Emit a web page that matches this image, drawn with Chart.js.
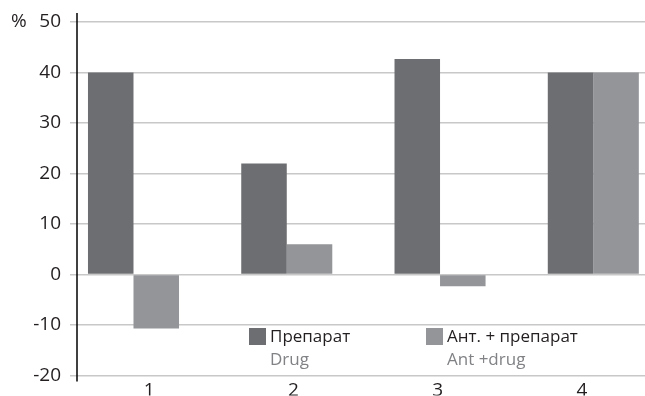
<!DOCTYPE html>
<html>
<head>
<meta charset="utf-8">
<script src="https://cdn.jsdelivr.net/npm/chart.js@4/dist/chart.umd.min.js"></script>
<style>
    html, body { margin: 0; padding: 0; background: #fff; overflow: hidden; }
    #wrap { width: 645px; height: 396px; overflow: hidden; }
</style>
</head>
<body>
<div id="wrap"><canvas id="chart" width="660" height="396"></canvas></div>
<script>
// data
const categories = ['1', '2', '3', '4'];
const drugValues = [40, 22, 42.7, 40];
const antDrugValues = [-10.7, 6, -2.3, 40];
const legendMain = ['Препарат', 'Ант. + препарат'];
const legendSub = ['Drug', 'Ant +drug'];
const yTicks = [-20, -10, 0, 10, 20, 30, 40, 50];

const FONT = '"Open Sans", "Noto Sans", sans-serif';
const TEXT = '#231f20';
const colors = ['#6d6e71', '#939598'];

// bars sit on their own (hidden) numeric axis, labels on the category one
const barSlots = categories.map((c, i) => i + 1);
const toPoints = vals => vals.map((v, i) => ({ x: barSlots[i], y: v }));

// draws the % sign, the black y axis line and the in-plot legend
const extras = {
    id: 'extras',
    afterDatasetsDraw(chart) {
        const ctx = chart.ctx;
        const area = chart.chartArea;
        const y = chart.scales.y;
        ctx.save();

        ctx.strokeStyle = '#000';
        ctx.lineWidth = 1.5;
        ctx.beginPath();
        ctx.moveTo(area.left, area.top - 9);
        ctx.lineTo(area.left, area.bottom + 6);
        ctx.stroke();

        ctx.fillStyle = TEXT;
        ctx.font = '19px ' + FONT;
        ctx.textBaseline = 'middle';
        ctx.textAlign = 'left';
        ctx.fillText('%', 11, y.getPixelForValue(yTicks[yTicks.length - 1]));

        const xs = [249, 426];
        chart.data.datasets.forEach((ds, i) => {
            ctx.fillStyle = ds.backgroundColor;
            ctx.fillRect(xs[i], 328, 17, 17);
            ctx.textBaseline = 'alphabetic';
            ctx.font = '17px ' + FONT;
            ctx.fillStyle = TEXT;
            ctx.fillText(legendMain[i], xs[i] + 21, 342);
            ctx.fillStyle = '#808285';
            ctx.fillText(legendSub[i], xs[i] + 21, 365);
        });
        ctx.restore();
    }
};

new Chart(document.getElementById('chart'), {
    type: 'bar',
    data: {
        labels: categories,
        datasets: [{
            label: legendMain[0],
            data: toPoints(drugValues),
            backgroundColor: colors[0],
            xAxisID: 'xb'
        }, {
            label: legendMain[1],
            data: toPoints(antDrugValues),
            backgroundColor: colors[1],
            xAxisID: 'xb'
        }]
    },
    options: {
        responsive: false,
        animation: false,
        categoryPercentage: 0.594,
        barPercentage: 1,
        layout: { padding: { top: 22, right: 6, left: 0, bottom: 0 } },
        plugins: {
            legend: { display: false },
            tooltip: { enabled: false }
        },
        scales: {
            xb: {
                type: 'linear',
                display: false,
                offset: false,
                min: 0.6314,
                max: 4.396,
                afterBuildTicks: s => { s.ticks = barSlots.map(v => ({ value: v })); }
            },
            x: {
                type: 'category',
                position: 'bottom',
                offset: true,
                grid: { display: false, drawTicks: false },
                border: { display: false },
                ticks: { color: TEXT, padding: 4, font: { family: FONT, size: 19 } },
                afterFit: s => { s.height = 20; }
            },
            y: {
                min: -20,
                max: 50,
                afterBuildTicks: s => { s.ticks = yTicks.map(v => ({ value: v })); },
                grid: { color: '#c8c8c8', lineWidth: 1.5, tickLength: 7 },
                border: { display: false },
                ticks: { color: TEXT, padding: 9, font: { family: FONT, size: 19 } },
                afterFit: s => { s.width = 77; }
            }
        }
    },
    plugins: [extras]
});
</script>
</body>
</html>
